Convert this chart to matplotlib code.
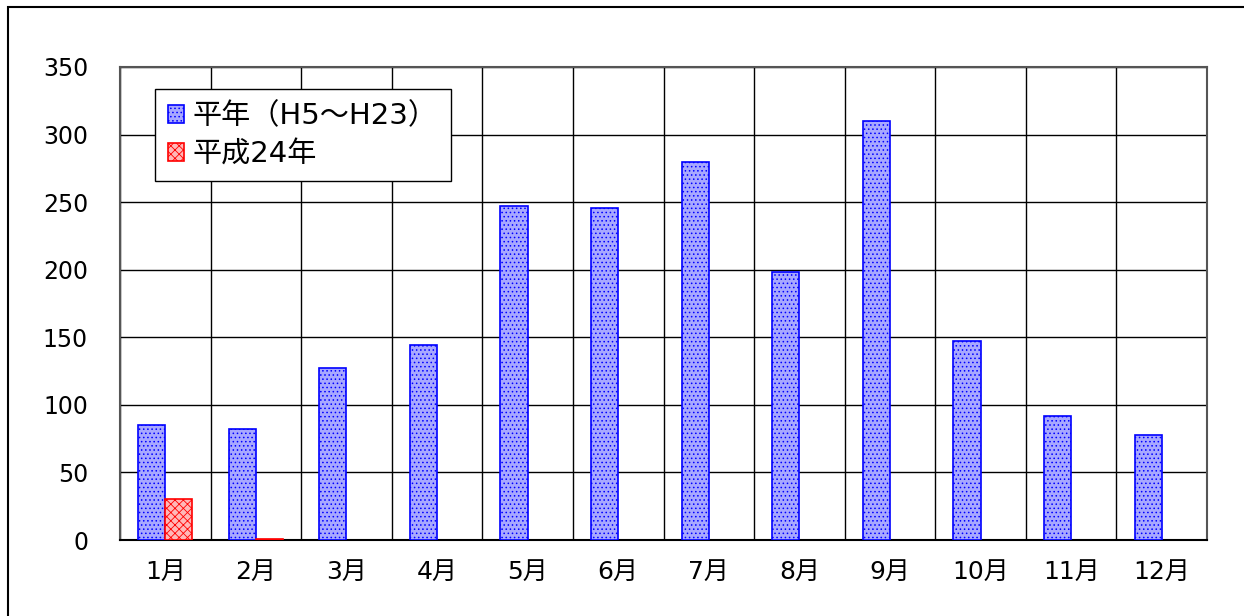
import numpy as np
import matplotlib.pyplot as plt
from matplotlib.patches import Rectangle

plt.rcParams['font.family'] = ['DejaVu Sans', 'Noto Sans CJK JP']
plt.rcParams['hatch.linewidth'] = 0.6

# データ
months = ["1月", "2月", "3月", "4月", "5月", "6月", "7月", "8月", "9月", "10月", "11月", "12月"]
heinen = [85, 82, 127, 144, 247, 246, 280, 198, 310, 147, 92, 78]
h24 = [30, 1, 0, 0, 0, 0, 0, 0, 0, 0, 0, 0]
yticks = [0, 50, 100, 150, 200, 250, 300, 350]

fig = plt.figure(figsize=(12.44, 6.16), dpi=100)
ax = fig.add_axes([120/1244, 76/616, 1087/1244, 473/616])

# 外枠
fig.patches.append(Rectangle((8/1244, -0.05), 1.1, (616-7)/616 + 0.05, transform=fig.transFigure,
                             fill=False, edgecolor="black", linewidth=1.5))

x = np.arange(len(months))
w = 0.3
ax.bar(x - w/2, heinen, w, facecolor="#a8a8ff", edgecolor="#0000ff", hatch="....",
       linewidth=1.2, label="平年（H5～H23）", zorder=3)
bars2 = ax.bar(x + w/2, h24, w, facecolor="#ffb8b8", edgecolor="#ff0000", hatch="xxxx",
               linewidth=1.2, label="平成24年", zorder=3)
for b, v in zip(bars2, h24):
    if v == 0:
        b.set_visible(False)

ax.set_xlim(-0.5, 11.5)
ax.set_ylim(0, 350)
ax.set_yticks(yticks)
ax.set_xticks(x)
ax.set_xticklabels(months)
ax.set_xticks(np.arange(-0.5, 12, 1), minor=True)
ax.tick_params(axis="x", which="both", length=0, pad=14, labelsize=18)
ax.tick_params(axis="y", length=0, pad=23, labelsize=17)
ax.grid(axis="y", color="black", linewidth=1, zorder=1)
ax.grid(axis="x", which="minor", color="black", linewidth=1, zorder=1)
ax.grid(axis="x", which="major", visible=False)
for s in ["top", "right", "left"]:
    ax.spines[s].set_color("#555555")
    ax.spines[s].set_linewidth(1.5)
ax.spines["bottom"].set_color("black")
ax.spines["bottom"].set_linewidth(1.5)

leg = ax.legend(loc="upper left", bbox_to_anchor=(35/1087, 1 - 22/473), fontsize=21,
                frameon=True, fancybox=False, edgecolor="black", framealpha=1,
                handlelength=0.55, handleheight=0.55, handletextpad=0.3, borderpad=0.45,
                labelspacing=0.35, borderaxespad=0)
leg.get_frame().set_linewidth(1)

fig.savefig("out.png", dpi=100)
